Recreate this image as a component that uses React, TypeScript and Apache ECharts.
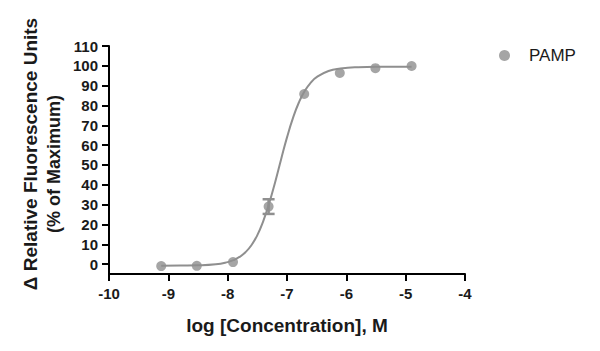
import React, { useEffect, useRef } from "react";
import * as echarts from "echarts";

// Measured data (log molar concentration vs % of maximum response)
const concLog = [-9.12, -8.52, -7.91, -7.31, -6.71, -6.11, -5.51, -4.9];
const responsePct = [-1.0, -0.9, 1.0, 29.0, 85.8, 96.4, 98.8, 99.9];
const responseErr = [0, 0, 0, 3.7, 0, 0, 0, 0];

// Fitted curve
const curveX = [-9.12, -8.8, -8.5, -8.2, -8.0, -7.9, -7.8, -7.7, -7.6, -7.5, -7.4, -7.3, -7.2, -7.1, -7.0, -6.9, -6.8, -6.7, -6.6, -6.5, -6.3, -6.1, -5.8, -5.5, -5.2, -4.9];
const curveY = [-0.8, -0.7, -0.6, -0.1, 1.0, 2.0, 3.6, 6.0, 9.5, 14.6, 21.7, 30.7, 41.3, 52.8, 63.9, 73.6, 81.5, 87.4, 91.5, 94.3, 97.4, 98.6, 99.3, 99.5, 99.5, 99.5];

const yTicks = [0, 10, 20, 30, 40, 50, 60, 70, 80, 90, 100, 110];
const seriesName = "PAMP";
const xTitle = "log [Concentration], M";
const yTitle1 = "\u0394 Relative Fluorescence Units";
const yTitle2 = "(% of Maximum)";

const GRAY = "#8f8f8f";
const FONT = "Arial, 'Liberation Sans', Helvetica, sans-serif";

export default function App() {
  const ref = useRef<HTMLDivElement>(null);
  useEffect(() => {
    if (!ref.current) return;
    const chart = echarts.init(ref.current, null, { renderer: "svg" });
    const points = concLog.map((x, i) => [x, responsePct[i]]);
    const curve = curveX.map((x, i) => [x, curveY[i]]);
    const errData = concLog
      .map((x, i) => [x, responsePct[i] - responseErr[i], responsePct[i] + responseErr[i], responseErr[i]])
      .filter((d) => d[3] > 0);
    chart.setOption({
      animation: false,
      backgroundColor: "#ffffff",
      textStyle: { fontFamily: FONT },
      grid: { left: 109, right: 135, top: 46, bottom: 77, containLabel: false },
      legend: {
        left: 494,
        top: 42,
        data: [{ name: seriesName, icon: "circle" }],
        itemWidth: 11,
        itemHeight: 11,
        itemGap: 8,
        textStyle: { fontSize: 17, color: "#1a1a1a", fontFamily: FONT, padding: [0, 0, 0, 14] },
      },
      xAxis: {
        type: "value",
        min: -10,
        max: -4,
        interval: 1,
        splitLine: { show: false },
        axisLine: { show: true, onZero: false, lineStyle: { color: "#000", width: 2 } },
        axisTick: { show: true, length: 7, lineStyle: { color: "#000", width: 2 } },
        axisLabel: { fontSize: 15, fontWeight: "bold", color: "#1a1a1a", margin: 12, fontFamily: FONT },
      },
      yAxis: {
        type: "value",
        min: -5,
        max: 110,
        splitLine: { show: false },
        axisLine: { show: true, onZero: false, lineStyle: { color: "#000", width: 2 } },
        axisTick: { show: true, length: 7, customValues: yTicks, lineStyle: { color: "#000", width: 2 } },
        axisLabel: { fontSize: 15, fontWeight: "bold", color: "#1a1a1a", margin: 11, customValues: yTicks, fontFamily: FONT },
      },
      graphic: [
        {
          type: "text",
          x: 287,
          y: 325,
          style: { text: xTitle, fontSize: 19, fontWeight: "bold", fill: "#1a1a1a", align: "center", verticalAlign: "middle", fontFamily: FONT },
        },
        {
          type: "text",
          x: 30,
          y: 154,
          rotation: Math.PI / 2,
          style: { text: yTitle1, fontSize: 19, fontWeight: "bold", fill: "#1a1a1a", align: "center", verticalAlign: "middle", fontFamily: FONT },
        },
        {
          type: "text",
          x: 54,
          y: 164,
          rotation: Math.PI / 2,
          style: { text: yTitle2, fontSize: 18, fontWeight: "bold", fill: "#1a1a1a", align: "center", verticalAlign: "middle", fontFamily: FONT },
        },
      ],
      series: [
        {
          type: "line",
          name: "fit",
          data: curve,
          smooth: true,
          symbol: "none",
          lineStyle: { color: GRAY, width: 2 },
          z: 2,
        },
        {
          type: "custom",
          name: "err",
          data: errData,
          renderItem: (params: any, api: any) => {
            const x = api.value(0);
            const lo = api.coord([x, api.value(1)]);
            const hi = api.coord([x, api.value(2)]);
            const hw = 6;
            const style = { stroke: GRAY, lineWidth: 2.5 };
            return {
              type: "group",
              children: [
                { type: "line", shape: { x1: lo[0], y1: lo[1], x2: hi[0], y2: hi[1] }, style },
                { type: "line", shape: { x1: lo[0] - hw, y1: lo[1], x2: lo[0] + hw, y2: lo[1] }, style },
                { type: "line", shape: { x1: hi[0] - hw, y1: hi[1], x2: hi[0] + hw, y2: hi[1] }, style },
              ],
            };
          },
          z: 3,
        },
        {
          type: "scatter",
          name: seriesName,
          data: points,
          symbol: "circle",
          symbolSize: 10,
          itemStyle: { color: GRAY },
          z: 4,
        },
      ],
    });
    return () => chart.dispose();
  }, []);
  return <div ref={ref} style={{ position: "fixed", left: 0, top: 0, width: 600, height: 351 }} />;
}
